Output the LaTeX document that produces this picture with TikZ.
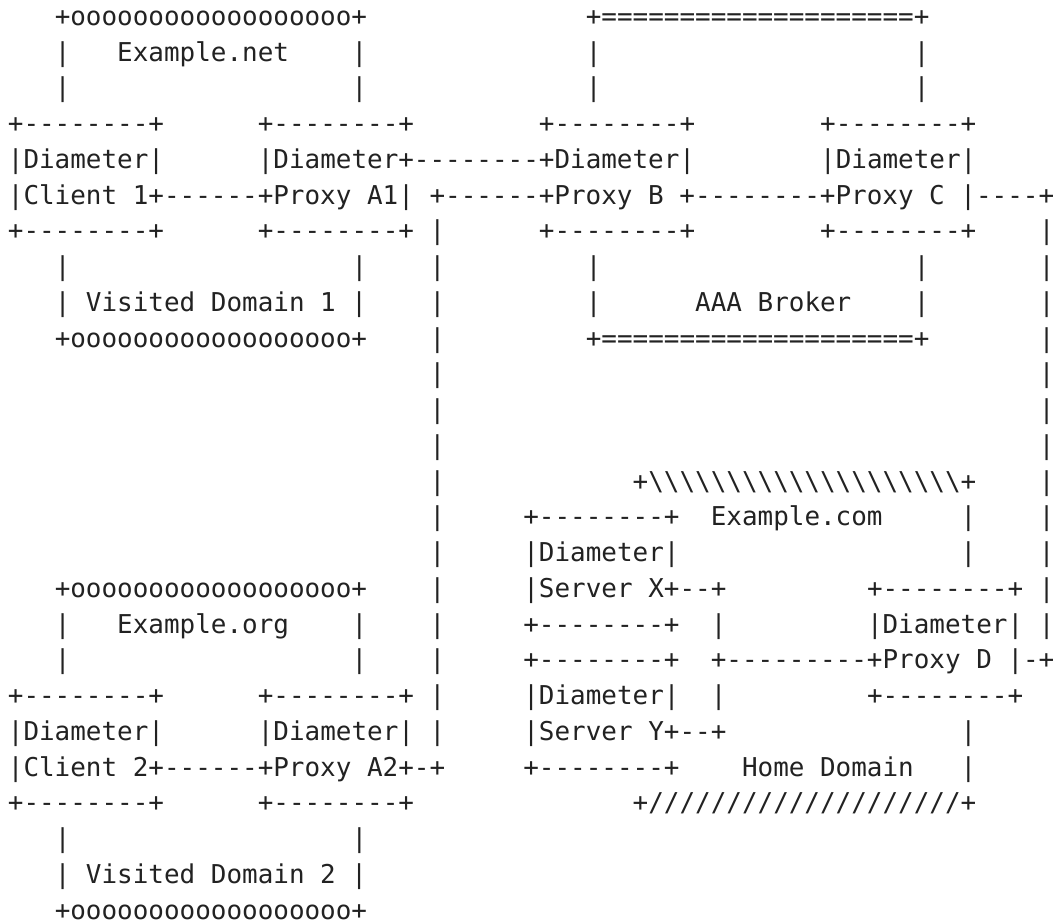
\documentclass[tikz,border=0pt]{standalone}
\usepackage{fontspec}
\setmonofont{DejaVu Sans Mono}
\definecolor{ink}{HTML}{222222}
\def\bs{\textbackslash}
\tikzset{txt/.style={anchor=base west, inner sep=0pt, outer sep=0pt, text=ink,
  font=\ttfamily\fontsize{19.455pt}{20pt}\selectfont}}
\newcommand\seg[3]{\node[txt] (r#1c#2) at ({7.9+15.62*#2},{25.3+35.75*#1}) {#3};}
\begin{document}
\begin{tikzpicture}[x=0.75pt,y=-0.75pt]
\useasboundingbox[fill=white] (0,0) rectangle (1055,922);
% row 0-2
\seg{0}{3}{+oooooooooooooooooo+}
\seg{0}{37}{+====================+}
\seg{1}{3}{|}\seg{1}{7}{Example.net}\seg{1}{22}{|}\seg{1}{37}{|}\seg{1}{58}{|}
\seg{2}{3}{|}\seg{2}{22}{|}\seg{2}{37}{|}\seg{2}{58}{|}
% row 3-6
\seg{3}{0}{+--------+}\seg{3}{16}{+--------+}\seg{3}{34}{+--------+}\seg{3}{52}{+--------+}
\seg{4}{0}{|Diameter|}\seg{4}{16}{|Diameter+--------+Diameter|}\seg{4}{52}{|Diameter|}
\seg{5}{0}{|Client 1+------+Proxy A1| +------+Proxy B +--------+Proxy C |----+}
\seg{6}{0}{+--------+}\seg{6}{16}{+--------+ |}\seg{6}{34}{+--------+}\seg{6}{52}{+--------+}\seg{6}{66}{|}
% row 7-9
\seg{7}{3}{|}\seg{7}{22}{|}\seg{7}{27}{|}\seg{7}{37}{|}\seg{7}{58}{|}\seg{7}{66}{|}
\seg{8}{3}{| Visited Domain 1 |}\seg{8}{27}{|}\seg{8}{37}{|}\seg{8}{44}{AAA Broker}\seg{8}{58}{|}\seg{8}{66}{|}
\seg{9}{3}{+oooooooooooooooooo+}\seg{9}{27}{|}\seg{9}{37}{+====================+}\seg{9}{66}{|}
% row 10-12
\seg{10}{27}{|}\seg{10}{66}{|}
\seg{11}{27}{|}\seg{11}{66}{|}
\seg{12}{27}{|}\seg{12}{66}{|}
% row 13-15
\seg{13}{27}{|}\seg{13}{40}{+\bs\bs\bs\bs\bs\bs\bs\bs\bs\bs\bs\bs\bs\bs\bs\bs\bs\bs\bs\bs+}\seg{13}{66}{|}
\seg{14}{27}{|}\seg{14}{33}{+--------+}\seg{14}{45}{Example.com}\seg{14}{61}{|}\seg{14}{66}{|}
\seg{15}{27}{|}\seg{15}{33}{|Diameter|}\seg{15}{61}{|}\seg{15}{66}{|}
% row 16-18
\seg{16}{3}{+oooooooooooooooooo+}\seg{16}{27}{|}\seg{16}{33}{|Server X+--+}\seg{16}{55}{+--------+ |}
\seg{17}{3}{|}\seg{17}{7}{Example.org}\seg{17}{22}{|}\seg{17}{27}{|}\seg{17}{33}{+--------+}\seg{17}{45}{|}\seg{17}{55}{|Diameter| |}
\seg{18}{3}{|}\seg{18}{22}{|}\seg{18}{27}{|}\seg{18}{33}{+--------+}\seg{18}{45}{+---------+Proxy D |-+}
% row 19-22
\seg{19}{0}{+--------+}\seg{19}{16}{+--------+ |}\seg{19}{33}{|Diameter|}\seg{19}{45}{|}\seg{19}{55}{+--------+}
\seg{20}{0}{|Diameter|}\seg{20}{16}{|Diameter| |}\seg{20}{33}{|Server Y+--+}\seg{20}{61}{|}
\seg{21}{0}{|Client 2+------+Proxy A2+-+}\seg{21}{33}{+--------+}\seg{21}{47}{Home Domain}\seg{21}{61}{|}
\seg{22}{0}{+--------+}\seg{22}{16}{+--------+}\seg{22}{40}{+////////////////////+}
% row 23-25
\seg{23}{3}{|}\seg{23}{22}{|}
\seg{24}{3}{| Visited Domain 2 |}
\seg{25}{3}{+oooooooooooooooooo+}
\end{tikzpicture}
\end{document}
